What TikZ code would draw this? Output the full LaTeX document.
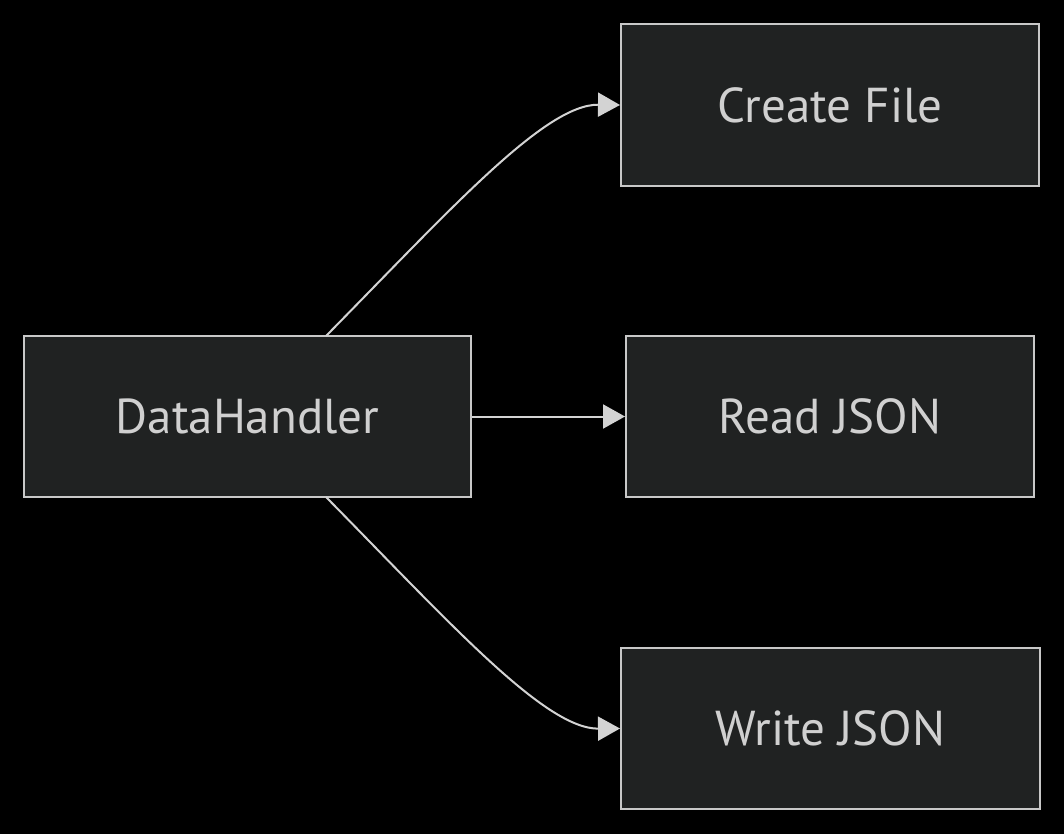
\documentclass[tikz,border=0pt]{standalone}
\usepackage{fontspec}
\setmainfont{PT Sans}
\usetikzlibrary{arrows.meta}
\definecolor{bg}{HTML}{000000}
\definecolor{boxfill}{HTML}{202222}
\definecolor{boxline}{HTML}{C8C8C8}
\definecolor{txt}{HTML}{D0D0D0}
\definecolor{edge}{HTML}{D3D3D3}
\tikzset{
  box/.style={draw=boxline, fill=boxfill, line width=2pt, text=txt, font=\fontsize{49}{54}\selectfont, inner sep=0pt},
  conn/.style={draw=edge, line width=2pt, -{Triangle[length=22pt,width=24pt]}}
}
\begin{document}
\begin{tikzpicture}[x=1pt,y=-1pt]
\fill[bg] (0,0) rectangle (1064,834);
\useasboundingbox (0,0) rectangle (1064,834);
\node[box, minimum width=447pt, minimum height=161pt] (dh) at (247.5,416.5) {DataHandler};
\node[box, minimum width=418pt, minimum height=162pt] (cf) at (830,105) {Create File};
\node[box, minimum width=408pt, minimum height=161pt] (rj) at (830,416.5) {Read JSON};
\node[box, minimum width=419pt, minimum height=161pt] (wj) at (830.5,728.5) {Write JSON};
\coordinate (dht) at (326,336);
\coordinate (dhb) at (326,497);
\draw[conn] (dht) .. controls (450,210) and (545,104) .. (cf.west);
\draw[conn] (dh.east) -- (rj.west);
\draw[conn] (dhb) .. controls (450,623) and (545,729) .. (wj.west);
\end{tikzpicture}
\end{document}
